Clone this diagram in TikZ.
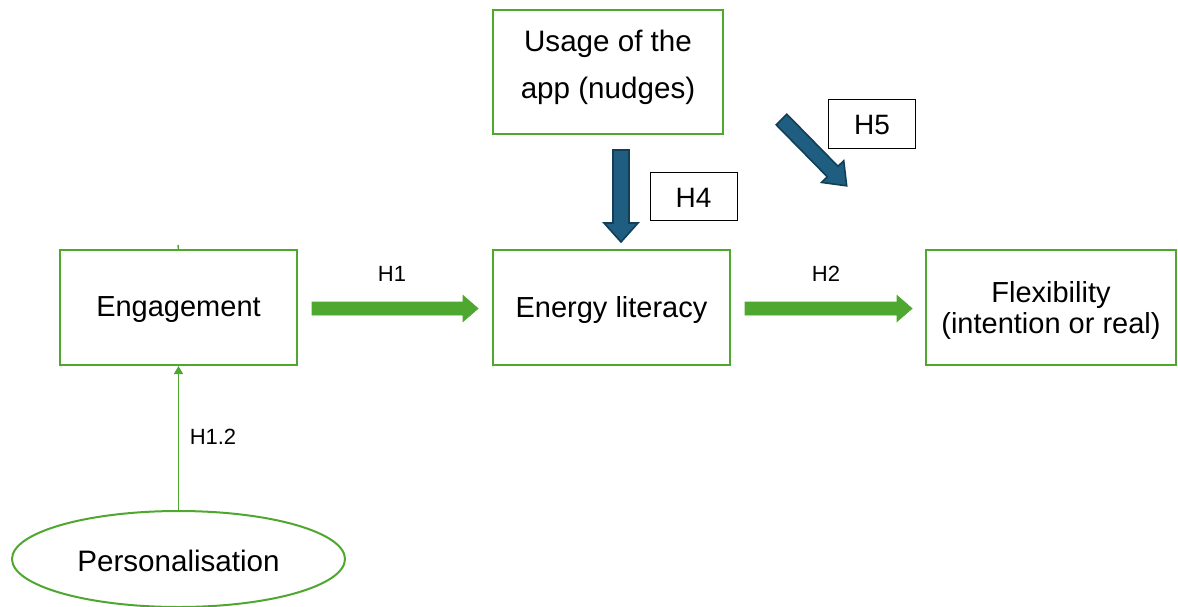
\documentclass[tikz,border=0pt]{standalone}
\usepackage{fontspec}
\setmainfont{Liberation Sans}
\usetikzlibrary{arrows.meta,shapes.geometric}

\definecolor{leafgreen}{HTML}{4EA72E}
\definecolor{deepblue}{HTML}{1F5E80}
\definecolor{deepblueedge}{HTML}{123E56}

% block arrow: #1 style, #2 tail centre, #3 angle, #4 length, #5 half shaft, #6 half head, #7 head length
\newcommand\blkarrow[7]{%
  \draw[#1, shift={#2}, rotate=#3]
    (0,-#5) -- ({#4-#7},-#5) -- ({#4-#7},-#6) -- (#4,0)
    -- ({#4-#7},#6) -- ({#4-#7},#5) -- (0,#5) -- cycle;}
% text moved vertically inside its frame without changing the frame
\newcommand\nudged[2]{\raisebox{#1}[\height][\depth]{#2}}
\newcommand\stacked[2]{\raisebox{#1}[\height][\depth]{\begin{tabular}{@{}c@{}}#2\end{tabular}}}

\begin{document}
\begin{tikzpicture}[x=0.5pt,y=-0.5pt,
  box/.style={draw=leafgreen, line width=1pt, inner sep=0pt,
    font=\fontsize{14.5}{17.5}\selectfont},
  tagbox/.style={draw=black, line width=0.5pt, inner sep=0pt,
    minimum width=43.5pt, font=\fontsize{14}{17}\selectfont},
  hlabel/.style={font=\fontsize{11}{13}\selectfont},
  greenarrow/.style={fill=leafgreen, draw=leafgreen, line width=0.4pt},
  bluearrow/.style={fill=deepblue, draw=deepblueedge, line width=0.8pt},
  thinlink/.style={draw=leafgreen, line width=0.75pt, -{Triangle[width=4.5pt,length=4pt]}}]
\useasboundingbox (0,0) rectangle (1178,606);

% main boxes
\node[box, minimum width=118.5pt, minimum height=57.5pt] (eng) at (178.5,307.5)
  {\nudged{-1pt}{Engagement}};
\node[box, minimum width=118.5pt, minimum height=57.5pt] (lit) at (611.5,307.5)
  {\nudged{-1pt}{Energy literacy}};
\node[box, minimum width=125pt, minimum height=57.5pt,
      font=\fontsize{14.5}{15.5}\selectfont] (flex) at (1051,307.5)
  {\stacked{-1.9pt}{Flexibility\\(intention or real)}};
\node[box, minimum width=115pt, minimum height=62pt,
      font=\fontsize{14.8}{23.5}\selectfont] (app) at (608,72)
  {\stacked{3.45pt}{Usage of the\\app (nudges)}};
\node[ellipse, draw=leafgreen, line width=1pt, inner sep=0pt,
      minimum width=166.5pt, minimum height=48pt,
      font=\fontsize{14.8}{17}\selectfont] (pers) at (178.5,559)
  {\nudged{-0.75pt}{Personalisation}};

% hypothesis tags
\node[tagbox, minimum height=24pt] (t4) at (693.5,196) {\nudged{-1pt}{H4}};
\node[tagbox, minimum height=24.5pt] (t5) at (872,123.5) {\nudged{-0.5pt}{H5}};
\node[hlabel] (l1) at (392,274) {H1};
\node[hlabel] (l2) at (826,274) {H2};
\node[hlabel] (l12) at (213,437) {H1.2};

% personalisation -> engagement
\draw[thinlink] (pers.north) -- (eng.south);
\coordinate (tickA) at (178,245);
\draw[leafgreen, line width=0.75pt] (tickA) -- (eng.north);

% block arrows
\coordinate (a1) at (312,308.5);
\coordinate (a2) at (745,308.5);
\coordinate (a4) at (621,150);
\coordinate (a5) at (781.5,119.5);
\blkarrow{greenarrow}{(a1)}{0}{166}{6.5}{13}{15}
\blkarrow{greenarrow}{(a2)}{0}{167}{6.5}{13}{15}
\blkarrow{bluearrow}{(a4)}{-90}{92}{8}{17}{19}
\blkarrow{bluearrow}{(a5)}{-45.5}{93}{7.5}{15.5}{20}
\end{tikzpicture}
\end{document}
